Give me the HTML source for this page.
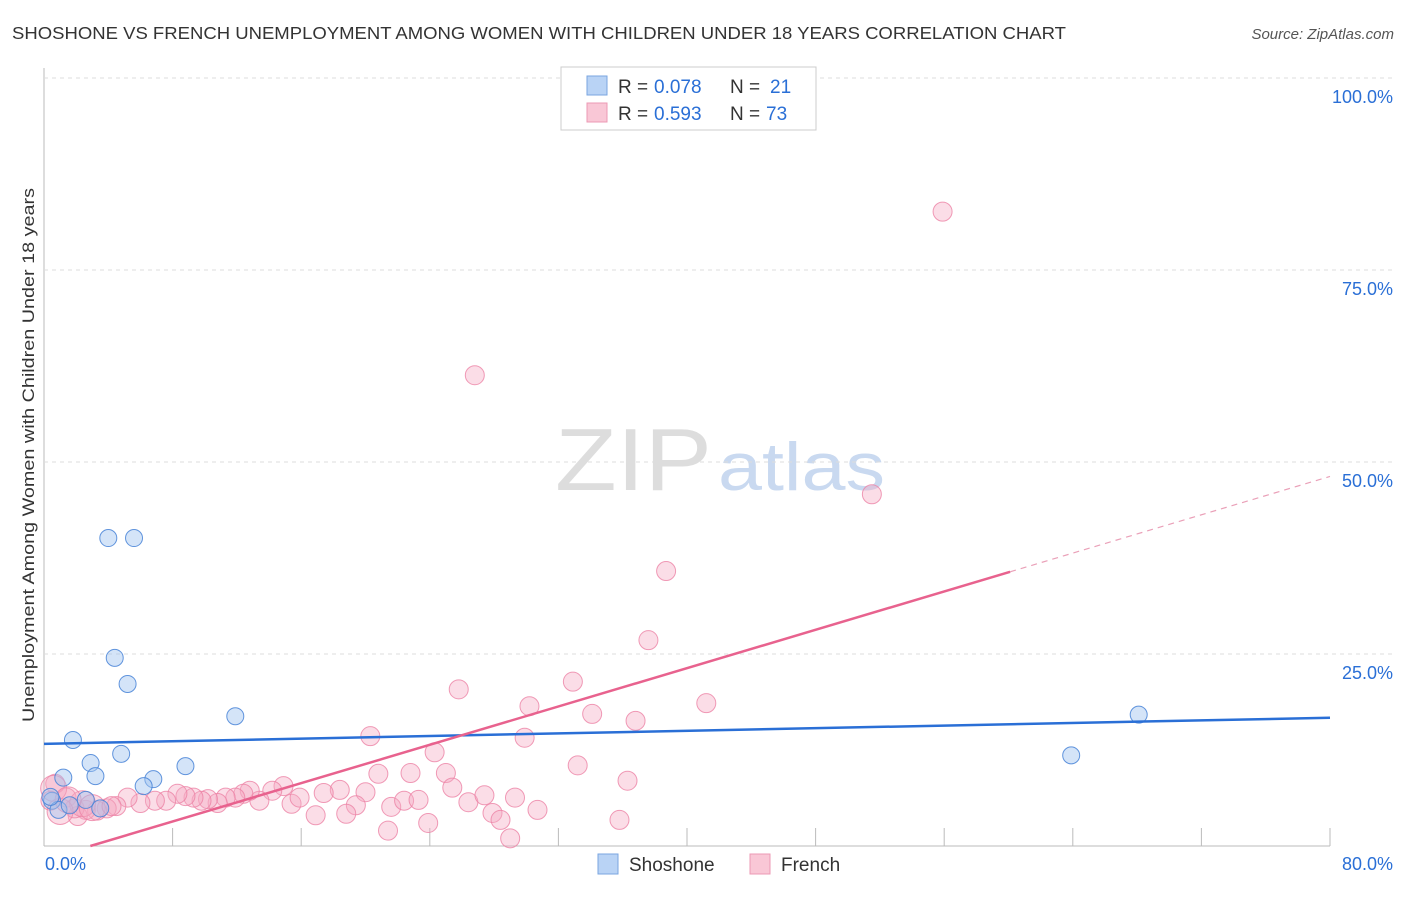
<!DOCTYPE html>
<html><head><meta charset="utf-8"><style>
body{margin:0;background:#fff;font-family:"Liberation Sans",sans-serif}
svg text{font-family:"Liberation Sans",sans-serif}
</style></head><body>
<svg width="1406" height="892" id="chart">
<text x="12" y="39" font-size="17.5" fill="#333" textLength="1054" lengthAdjust="spacingAndGlyphs">SHOSHONE VS FRENCH UNEMPLOYMENT AMONG WOMEN WITH CHILDREN UNDER 18 YEARS CORRELATION CHART</text>
<text x="1394" y="39" font-size="15" fill="#555" font-style="italic" text-anchor="end">Source: ZipAtlas.com</text>
<text x="34" y="455" font-size="17" fill="#333" text-anchor="middle" textLength="534" lengthAdjust="spacingAndGlyphs" transform="rotate(-90 34 455)">Unemployment Among Women with Children Under 18 years</text>
<text x="555" y="490" font-size="88" fill="#ddd" font-family="Liberation Serif" textLength="157" lengthAdjust="spacingAndGlyphs">ZIP</text>
<text x="718" y="490" font-size="68" fill="#c9d9f0" textLength="167" lengthAdjust="spacingAndGlyphs">atlas</text>
<g id="grid"></g>
<g id="pts"></g>
<g id="lines"></g>
<g>
<rect x="561" y="67" width="255" height="63" fill="#fff" stroke="#ccc"/>
<rect x="587" y="76" width="20" height="19" fill="#b9d3f5" stroke="#7aa6e0"/>
<text x="618" y="93" font-size="19" fill="#333">R =</text>
<text x="654" y="93" font-size="19" fill="#2a6fd6">0.078</text>
<text x="730" y="93" font-size="19" fill="#333">N =</text>
<text x="770" y="93" font-size="19" fill="#2a6fd6">21</text>
<rect x="587" y="103" width="20" height="19" fill="#f9c7d6" stroke="#ec9ab4"/>
<text x="618" y="120" font-size="19" fill="#333">R =</text>
<text x="654" y="120" font-size="19" fill="#2a6fd6">0.593</text>
<text x="730" y="120" font-size="19" fill="#333">N =</text>
<text x="766" y="120" font-size="19" fill="#2a6fd6">73</text>
</g>
<g>
<rect x="598" y="854" width="20" height="20" fill="#b9d3f5" stroke="#7aa6e0"/>
<text x="629" y="871" font-size="19" fill="#333">Shoshone</text>
<rect x="750" y="854" width="20" height="20" fill="#f9c7d6" stroke="#ec9ab4"/>
<text x="781" y="871" font-size="19" fill="#333">French</text>
</g>
<text x="45" y="870" font-size="18" fill="#2a6fd6">0.0%</text>
<text x="1393" y="870" font-size="18" fill="#2a6fd6" text-anchor="end">80.0%</text>
</svg>
<script>
const yTicks=[25,50,75,100];
const yTickLabels=["25.0%","50.0%","75.0%","100.0%"];
const xTicks=[8,16,24,32,40,48,56,64,72,80];
const shoX=[0.5,0.9,1.2,1.8,2.9,3.2,2.6,3.5,4.0,5.6,4.4,5.2,4.8,6.8,6.2,8.8,11.9,68.1,63.9,0.4,1.6];
const shoY=[5.9,4.7,8.9,13.8,10.8,9.1,6.0,4.9,40.1,40.1,24.5,21.1,12.0,8.7,7.8,10.4,16.9,17.1,11.8,6.4,5.3];
const frX=[20.8,22.8,25.0,33.2,36.3,24.3,25.4,20.0,18.4,17.4,19.4,21.6,22.4,23.3,26.4,27.4,29.3,30.7,27.9,28.4,23.9,21.4,29.0,35.8,18.8,16.9,15.4,15.9,14.9,14.2,13.4,12.8,12.4,11.9,11.3,10.8,10.2,9.8,9.3,8.8,8.3,7.6,6.9,6.0,5.2,4.5,3.9,3.3,2.6,2.1,1.4,0.7,0.4,1.9,55.9,26.8,51.5,38.7,37.6,25.8,32.9,30.2,34.1,36.8,41.2,20.3,29.9,0.6,2.4,1.0,3.0,1.5,4.2];
const frY=[9.4,9.5,9.5,10.5,8.5,12.2,7.6,7.0,7.3,6.9,5.3,5.1,5.9,6.0,5.7,6.6,6.3,4.7,4.3,3.4,3.0,2.0,1.0,3.4,4.2,4.0,5.5,6.3,7.8,7.2,5.9,7.2,6.8,6.3,6.3,5.6,6.1,5.9,6.3,6.5,6.8,5.9,5.9,5.6,6.3,5.2,4.9,4.6,4.7,3.9,6.3,8.1,5.9,4.9,82.6,61.3,45.8,35.8,26.8,20.4,21.4,18.2,17.2,16.3,18.6,14.3,14.1,7.5,5.5,4.5,5.0,6.0,5.2];
const frBig=[67,68,69,70,71];
const shoFit=[13.3,16.7];
const frIntercept=-1.8, frSlope=0.624, frSolidEnd=60.1;
const X=v=>44+v*1286/80, Y=v=>846-v*7.68;
const NS="http://www.w3.org/2000/svg";
function mk(t,a,p){const e=document.createElementNS(NS,t);for(const k in a)e.setAttribute(k,a[k]);p.appendChild(e);return e;}
const grid=document.getElementById('grid');
const ax=mk('line',{x1:44,y1:68,x2:44,y2:846,stroke:'#bbb'},grid);


const bx=mk('line',{x1:44,y1:846,x2:1330,y2:846,stroke:'#bbb'},grid);


yTicks.forEach((t,i)=>{
 const g=mk('line',{x1:44,y1:Y(t),x2:1393,y2:Y(t),stroke:'#ddd','stroke-dasharray':'4,4'},grid);
 
 
 const l=mk('text',{x:1393,y:Y(t)+25,'font-size':18,fill:'#2a6fd6','text-anchor':'end'},grid);
 l.textContent=yTickLabels[i];
 
 
});
xTicks.forEach(t=>{
 const k=mk('line',{x1:X(t),y1:828,x2:X(t),y2:846,stroke:'#bbb'},grid);
 
 
});
const pts=document.getElementById('pts');
frX.forEach((x,i)=>{
 const r=frBig.includes(i)?13:9.5;
 const c=mk('circle',{cx:X(x),cy:Y(frY[i]),r:r,fill:'rgba(246,170,195,0.4)',stroke:'rgba(236,130,165,0.8)','stroke-width':1},pts);
 
 
});
shoX.forEach((x,i)=>{
 const c=mk('circle',{cx:X(x),cy:Y(shoY[i]),r:8.5,fill:'rgba(160,195,240,0.45)',stroke:'rgba(70,130,215,0.85)','stroke-width':1},pts);
 
 
});
const lines=document.getElementById('lines');
const b=mk('line',{x1:X(0),y1:Y(shoFit[0]),x2:X(80),y2:Y(shoFit[1]),stroke:'#2a6fd6','stroke-width':2.5},lines);


const x0=-frIntercept/frSlope;
const p=mk('line',{x1:X(x0),y1:Y(0),x2:X(frSolidEnd),y2:Y(frIntercept+frSlope*frSolidEnd),stroke:'#e8628e','stroke-width':2.5},lines);


const pd=mk('line',{x1:X(frSolidEnd),y1:Y(frIntercept+frSlope*frSolidEnd),x2:X(80),y2:Y(frIntercept+frSlope*80),stroke:'#eaa0b8','stroke-width':1.2,'stroke-dasharray':'6,5'},lines);


</script>
</body></html>
